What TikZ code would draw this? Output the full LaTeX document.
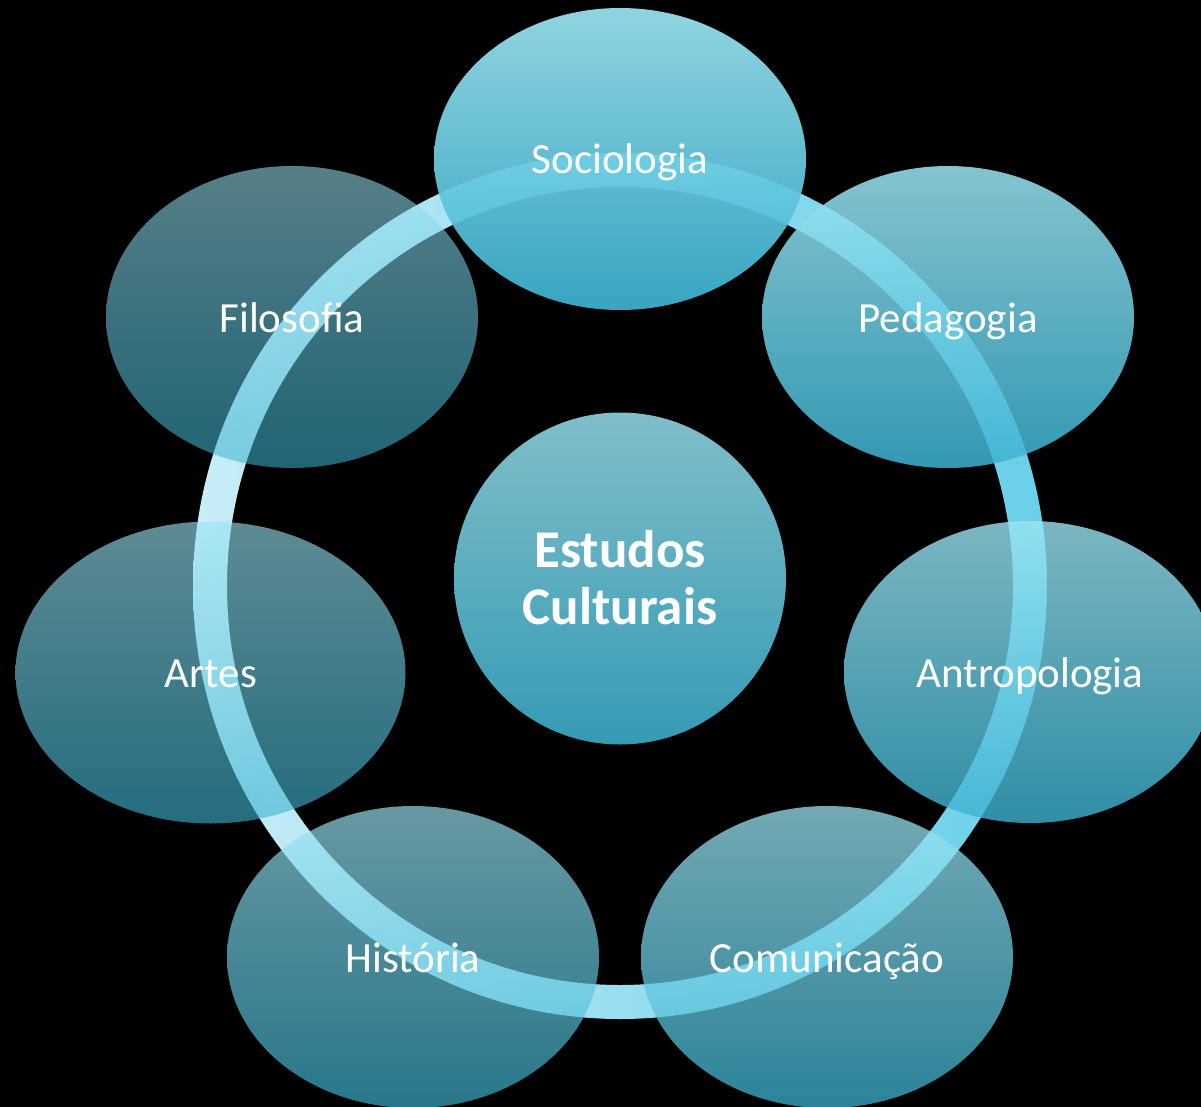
\documentclass[tikz,border=0pt]{standalone}
\usepackage{fontspec}
\setmainfont{Carlito}
\usetikzlibrary{shapes.geometric}

\definecolor{ringL}{RGB}{200,237,247}
\definecolor{ringR}{RGB}{105,207,233}
\definecolor{bubTop}{RGB}{155,228,242}
\definecolor{bubBot}{RGB}{60,178,208}
\definecolor{hubTop}{RGB}{128,190,201}
\definecolor{hubBot}{RGB}{53,155,180}

\begin{document}
\begin{tikzpicture}[x=1pt,y=-1pt,
  bubble/.style={ellipse, inner sep=0pt, draw=none,
    minimum width=372pt, minimum height=302pt,
    top color=bubTop, bottom color=bubBot},
  hub/.style={circle, inner sep=0pt, draw=none, minimum size=332pt,
    top color=hubTop, bottom color=hubBot},
  lbl/.style={text=white, inner sep=0pt, anchor=base,
    font=\fontsize{43}{50}\selectfont},
  hublbl/.style={text=white, inner sep=0pt, anchor=base,
    font=\fontsize{53}{60}\selectfont\bfseries}]

% black page
\fill[black] (0,0) rectangle (1201,1107);
\useasboundingbox (0,0) rectangle (1201,1107);

% the ring linking the disciplines
\shade[left color=ringL, right color=ringR, even odd rule]
  (620,586) ellipse [x radius=427, y radius=433]
  (620,586) ellipse [x radius=393, y radius=399];

% discipline bubbles, growing more transparent clockwise
\node[bubble, fill opacity=.93] (soc) at (620,159) {};
\node[bubble, fill opacity=.86] (ped) at (948,317) {};
\node[bubble, fill opacity=.80] (ant) at (1030,672) {};
\node[bubble, fill opacity=.74] (com) at (827,957) {};
\node[bubble, fill opacity=.67] (his) at (413,957) {};
\node[bubble, fill opacity=.61, minimum width=390pt] (art) at (210.5,672.5) {};
\node[bubble, fill opacity=.56] (fil) at (292,317) {};

% central topic
\node[hub] (hubc) at (620,578.5) {};

% labels
\node[lbl] (socT) at (620,174) {Sociologia};
\node[lbl] (pedT) at (948,332) {Pedagogia};
\node[lbl] (antT) at (1030,687) {Antropologia};
\node[lbl] (comT) at (827,972) {Comunicação};
\node[lbl] (hisT) at (413,972) {História};
\node[lbl] (artT) at (211,687) {Artes};
\node[lbl] (filT) at (292,332) {Filosofia};

\node[hublbl] (hubT1) at (620,567) {Estudos};
\node[hublbl] (hubT2) at (620,624) {Culturais};
\end{tikzpicture}
\end{document}
